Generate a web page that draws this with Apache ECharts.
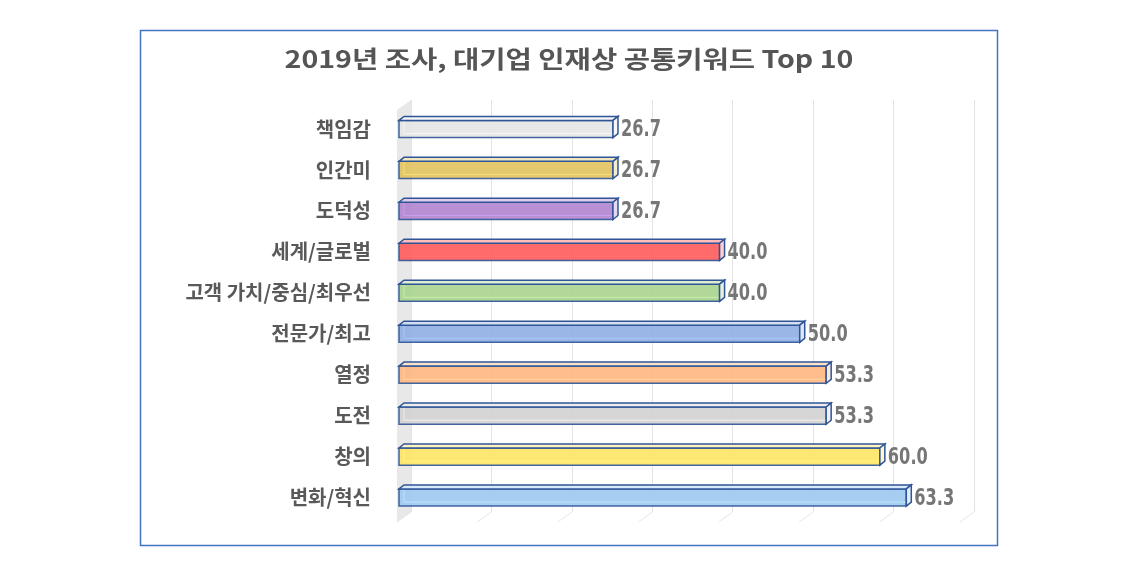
<!DOCTYPE html>
<html>
<head>
<meta charset="utf-8">
<script src="https://cdn.jsdelivr.net/npm/echarts@6/dist/echarts.min.js"></script>
<style>
  html, body { margin: 0; padding: 0; background: #fff; }
  #chart { width: 1123px; height: 572px; }
</style>
</head>
<body>
<div id="chart"></div>
<script>
// keyword share (%) - 2019 survey
var categories = ['책임감', '인간미', '도덕성', '세계/글로벌', '고객 가치/중심/최우선', '전문가/최고', '열정', '도전', '창의', '변화/혁신'];
var values = [26.7, 26.7, 26.7, 40.0, 40.0, 50.0, 53.3, 53.3, 60.0, 63.3];
var barColors = ['#E7E6E6', '#E3C35F', '#AF85CF', '#FF5A5A', '#A9D48E', '#8EAEE3', '#FFB681', '#D2D2D2', '#FFE465', '#9DC8F0'];
var gridTicks = [0, 10, 20, 30, 40, 50, 60, 70];
var titleText = '2019년 조사, 대기업 인재상 공통키워드 Top 10';

var chart = echarts.init(document.getElementById('chart'));

var DX = 5, DY = 4; // bar depth
var edge = '#2F5597';

function renderBar(params, api) {
	var v = api.value(0), idx = api.value(1);
	var s = api.coord([0, idx]);
	var e = api.coord([v, idx]);
	var h = api.size([0, 1])[1] * 0.42;
	var x0 = s[0], x1 = e[0];
	var yT = s[1] - h / 2, yB = s[1] + h / 2;
	var col = barColors[idx];
	var dark = echarts.color.lift(col, -0.25);
	return {
		type: 'group',
		children: [
			{ type: 'rect', shape: { x: x0, y: yT, width: x1 - x0, height: h },
			  style: { fill: col, opacity: 0.9, stroke: edge, lineWidth: 1.5 } },
			// back edges seen through the front
			{ type: 'polyline', shape: { points: [[x0 + DX, yT - DY + 2], [x0 + DX, yB - DY], [x1, yB - DY]] },
			  style: { stroke: dark, lineWidth: 1, fill: null, opacity: 0.6 } },
			// top face
			{ type: 'polygon', shape: { points: [[x0, yT], [x0 + DX, yT - DY], [x1 + DX, yT - DY], [x1, yT]] },
			  style: { fill: echarts.color.lift(col, 0.6), stroke: edge, lineWidth: 1.5 } },
			// right cap
			{ type: 'polygon', shape: { points: [[x1, yT], [x1 + DX, yT - DY], [x1 + DX, yB - DY], [x1, yB]] },
			  style: { fill: echarts.color.lift(col, 0.7), stroke: edge, lineWidth: 1.5 } },
			{ type: 'text', x: x1 + DX + 3, y: s[1] + 1, scaleX: 0.9, scaleY: 1.15,
			  style: { text: v.toFixed(1), fill: '#767676', fontSize: 20, fontWeight: 'bold',
			           fontFamily: "'DejaVu Sans Condensed', sans-serif",
			           verticalAlign: 'middle', align: 'left' } }
		]
	};
}

function renderFloor(params, api) {
	var t = api.value(0);
	var b = api.coord([t, 0]);
	var top = api.coord([t, 1]);
	var kids = [
		{ type: 'line', shape: { x1: b[0], y1: b[1], x2: b[0] - 14, y2: b[1] + 10 },
		  style: { stroke: '#E6E6E6', lineWidth: 1 } }
	];
	if (t === 0) {
		kids.unshift({ type: 'polygon',
			shape: { points: [[top[0], top[1]], [b[0], b[1]], [b[0] - 14, b[1] + 10], [top[0] - 14, top[1] + 10]] },
			style: { fill: '#E8E8E8' } });
	}
	return { type: 'group', children: kids };
}

var option = {
	animation: false,
	graphic: [{
		type: 'rect', left: 138, top: 28, z: 0,
		shape: { width: 857, height: 515 },
		style: { fill: null, stroke: '#4472C4', lineWidth: 1.5 }
	}, {
		type: 'text', x: 569, y: 59, scaleX: 1.19,
		style: { text: titleText, fontSize: 24, fontWeight: 'bold', fill: '#555555',
		         fontFamily: "'Noto Sans CJK KR', sans-serif", align: 'center', verticalAlign: 'middle' }
	}],
	grid: [
		{ left: 411, width: 563, top: 100, height: 412 },
		{ left: 399, width: 561, top: 108.5, height: 409.5 }
	],
	xAxis: [
		{ gridIndex: 0, type: 'value', min: 0, max: 70, interval: 10,
		  axisLabel: { show: false }, axisLine: { show: false }, axisTick: { show: false },
		  splitLine: { lineStyle: { color: '#E3E3E3', width: 1 } } },
		{ gridIndex: 1, type: 'value', min: 0, max: 70, interval: 10, show: false }
	],
	yAxis: [
		{ gridIndex: 0, type: 'value', min: 0, max: 1, show: false },
		{ gridIndex: 1, type: 'category', data: categories, inverse: true,
		  axisLine: { show: false }, axisTick: { show: false }, splitLine: { show: false },
		  axisLabel: { margin: 28, fontSize: 20, fontWeight: 'bold', color: '#595959',
		               fontFamily: "'Noto Sans CJK KR', sans-serif" } }
	],
	series: [
		{ type: 'custom', xAxisIndex: 0, yAxisIndex: 0, silent: true, z: 1,
		  data: gridTicks.map(function (t) { return [t]; }),
		  encode: { x: 0 }, renderItem: renderFloor },
		{ type: 'custom', xAxisIndex: 1, yAxisIndex: 1, z: 5,
		  data: values.map(function (v, i) { return [v, i]; }),
		  encode: { x: 0, y: 1 }, renderItem: renderBar }
	]
};
chart.setOption(option);
</script>
</body>
</html>
